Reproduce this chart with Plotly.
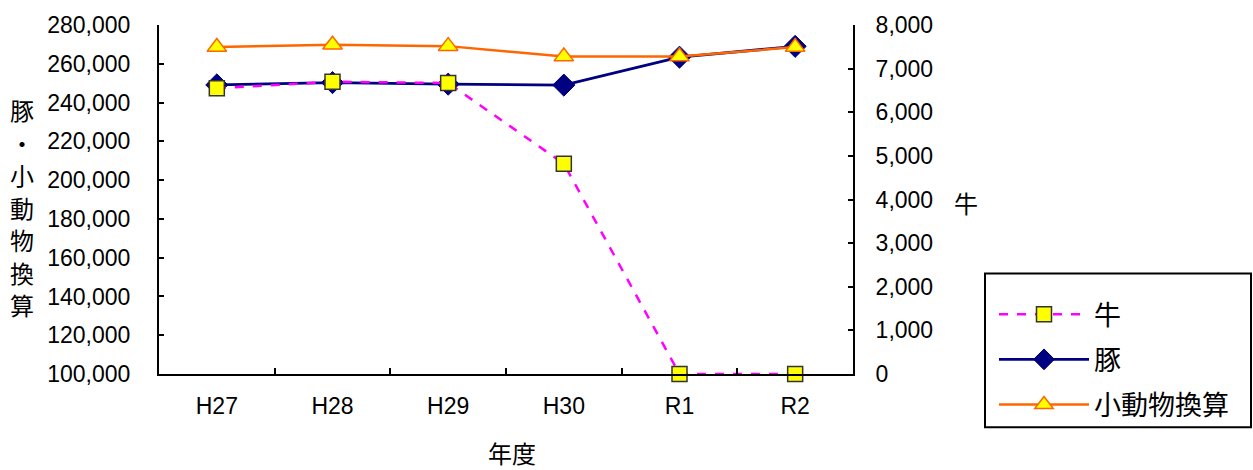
import plotly.graph_objects as go

years = ["H27", "H28", "H29", "H30", "R1", "R2"]
cattle = [6550, 6700, 6670, 4820, 0, 0]
pigs = [249100, 250300, 249500, 249000, 263400, 269000]
small_animal = [268600, 269800, 269100, 263700, 263700, 268600]

left_ticks = list(range(100000, 280001, 20000))
right_ticks = list(range(0, 8001, 1000))

FONT = "Liberation Sans, Arial, Noto Sans CJK JP"
JFONT = "Noto Sans CJK JP, Liberation Sans"

# plot area in pixels: x 159..853, y 20..374
def px_x(x):
    return (x - 159) / 694.0

def px_y(y):
    return (374 - y) / 354.0

fig = go.Figure()
fig.add_trace(go.Scatter(
    x=years, y=cattle, name="牛", yaxis="y2", mode="lines+markers",
    legendgroup="a", cliponaxis=False,
    line=dict(color="#FF00FF", width=2.5, dash="dash"),
    marker=dict(symbol="square", size=15, color="#FFFF00",
                line=dict(color="#333333", width=1.5)),
))
fig.add_trace(go.Scatter(
    x=years, y=pigs, name="豚", yaxis="y", mode="lines+markers",
    legendgroup="b", cliponaxis=False,
    line=dict(color="#000080", width=2.8),
    marker=dict(symbol="diamond", size=17, color="#000080",
                line=dict(color="#000080", width=1)),
))
fig.add_trace(go.Scatter(
    x=years, y=small_animal, name="小動物換算", yaxis="y", mode="lines+markers",
    legendgroup="c", cliponaxis=False,
    line=dict(color="#FF6600", width=2.5),
    marker=dict(symbol="triangle-up", size=17, color="#FFFF00",
                line=dict(color="#FF6600", width=1.5)),
))

title_chars = ["豚", "・", "小", "動", "物", "換", "算"]
title_y = [106, 139, 172, 205, 238, 271, 304]
annotations = [
    dict(text=c, xref="paper", yref="paper", x=px_x(22), y=px_y(yy),
         xanchor="center", yanchor="middle", showarrow=False,
         font=dict(family=JFONT, size=24, color="black"))
    for c, yy in zip(title_chars, title_y)
]
annotations += [
    dict(text="牛", xref="paper", yref="paper",
         x=px_x(966), y=px_y(200), xanchor="center", yanchor="middle", showarrow=False,
         font=dict(family=JFONT, size=24, color="black")),
    dict(text="年度", xref="paper", yref="paper",
         x=px_x(512), y=px_y(454), xanchor="center", yanchor="middle", showarrow=False,
         font=dict(family=JFONT, size=24, color="black")),
]

fig.update_layout(
    width=1253, height=470,
    margin=dict(l=159, r=400, t=20, b=96),
    paper_bgcolor="white", plot_bgcolor="white",
    font=dict(family=FONT, size=23, color="black"),
    showlegend=True,
    legend=dict(
        x=px_x(994), y=px_y(289), xanchor="left", yanchor="top",
        borderwidth=0, bgcolor="rgba(0,0,0,0)",
        font=dict(family=JFONT, size=27, color="black"),
        tracegroupgap=7, itemwidth=90,
    ),
    shapes=[dict(type="rect", xref="paper", yref="paper",
                 x0=px_x(985), x1=px_x(1251), y0=px_y(428), y1=px_y(272),
                 line=dict(color="black", width=2), fillcolor="rgba(0,0,0,0)", layer="above")],
    xaxis=dict(
        type="category", range=[-0.5, 5.5], tickson="boundaries",
        ticks="inside", ticklen=6, tickcolor="black", tickwidth=1.5,
        showline=True, linecolor="black", linewidth=2,
        showgrid=False, zeroline=False,
        tickfont=dict(family=FONT, size=23),
        ticklabelstandoff=10,
    ),
    yaxis=dict(
        range=[100000, 280000], tickvals=left_ticks, tickformat=",",
        ticks="inside", ticklen=5, tickcolor="black", tickwidth=1.5,
        showline=True, linecolor="black", linewidth=2,
        showgrid=False, zeroline=False,
        tickfont=dict(family=FONT, size=23),
        ticklabelstandoff=22,
    ),
    yaxis2=dict(
        overlaying="y", side="right",
        range=[0, 8000], tickvals=right_ticks, tickformat=",",
        ticks="inside", ticklen=5, tickcolor="black", tickwidth=1.5,
        showline=True, linecolor="black", linewidth=2,
        showgrid=False, zeroline=False,
        tickfont=dict(family=FONT, size=23),
        ticklabelstandoff=16,
    ),
    annotations=annotations,
)

fig.write_html("out.html")
